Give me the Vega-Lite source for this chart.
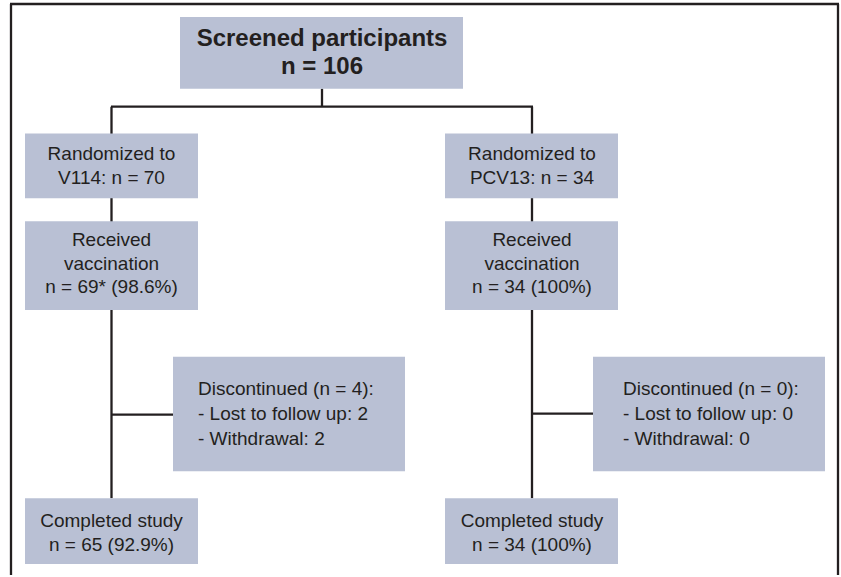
{
  "$schema": "https://vega.github.io/schema/vega-lite/v6.json",
  "width": 841,
  "height": 577,
  "autosize": {"type": "fit", "contains": "padding"},
  "padding": 0,
  "background": "white",
  "config": {"view": {"stroke": null}},
  "datasets": {
    "boxes": [
      {"node": "Screened", "x1": 180, "x2": 463, "y1": 17, "y2": 89},
      {"node": "RandV114", "x1": 25, "x2": 198, "y1": 134, "y2": 199},
      {"node": "RecV114", "x1": 25, "x2": 198, "y1": 222, "y2": 311},
      {"node": "DiscV114", "x1": 173, "x2": 405, "y1": 358, "y2": 473},
      {"node": "CompV114", "x1": 25, "x2": 198, "y1": 500, "y2": 566},
      {"node": "RandPCV13", "x1": 445, "x2": 618, "y1": 134, "y2": 199},
      {"node": "RecPCV13", "x1": 445, "x2": 618, "y1": 222, "y2": 311},
      {"node": "DiscPCV13", "x1": 593, "x2": 825, "y1": 358, "y2": 473},
      {"node": "CompPCV13", "x1": 445, "x2": 618, "y1": 500, "y2": 566}
    ],
    "links": [
      {"x1": 322, "x2": 322, "y1": 89, "y2": 107},
      {"x1": 111, "x2": 533, "y1": 107, "y2": 107},
      {"x1": 111.5, "x2": 111.5, "y1": 107, "y2": 500},
      {"x1": 532, "x2": 532, "y1": 107, "y2": 500},
      {"x1": 111.5, "x2": 173, "y1": 416, "y2": 416},
      {"x1": 532, "x2": 593, "y1": 415, "y2": 415},
      {"x1": 10, "x2": 839, "y1": 4, "y2": 4},
      {"x1": 11, "x2": 11, "y1": 4, "y2": 577},
      {"x1": 838, "x2": 838, "y1": 4, "y2": 577}
    ],
    "title": [
      {"x": 322, "y": 46, "label": "Screened participants\nn = 106"}
    ],
    "centered": [
      {"x": 111.5, "y": 161, "label": "Randomized to\nV114: n = 70"},
      {"x": 111.5, "y": 247, "label": "Received\nvaccination\nn = 69* (98.6%)"},
      {"x": 111.5, "y": 529, "label": "Completed study\nn = 65 (92.9%)"},
      {"x": 532, "y": 161, "label": "Randomized to\nPCV13: n = 34"},
      {"x": 532, "y": 247, "label": "Received\nvaccination\nn = 34 (100%)"},
      {"x": 532, "y": 529, "label": "Completed study\nn = 34 (100%)"}
    ],
    "disc": [
      {"x": 198, "y": 396, "label": "Discontinued (n = 4):\n- Lost to follow up: 2\n- Withdrawal: 2"},
      {"x": 623, "y": 396, "label": "Discontinued (n = 0):\n- Lost to follow up: 0\n- Withdrawal: 0"}
    ]
  },
  "layer": [
    {
      "data": {"name": "links"},
      "mark": {"type": "rule", "color": "#231f20", "strokeWidth": 2.3},
      "encoding": {
        "x": {"field": "x1", "type": "quantitative", "scale": {"domain": [0, 841], "nice": false, "zero": false}, "axis": null},
        "x2": {"field": "x2"},
        "y": {"field": "y1", "type": "quantitative", "scale": {"domain": [0, 577], "nice": false, "zero": false, "reverse": true}, "axis": null},
        "y2": {"field": "y2"}
      }
    },
    {
      "data": {"name": "boxes"},
      "mark": {"type": "rect", "color": "#b9c0d4"},
      "encoding": {
        "x": {"field": "x1", "type": "quantitative", "axis": null},
        "x2": {"field": "x2"},
        "y": {"field": "y1", "type": "quantitative", "axis": null},
        "y2": {"field": "y2"}
      }
    },
    {
      "data": {"name": "title"},
      "mark": {"type": "text", "font": "Liberation Sans", "fontWeight": "bold", "fontSize": 24, "lineHeight": 28, "lineBreak": "\n", "align": "center", "baseline": "alphabetic", "color": "#231f20"},
      "encoding": {
        "x": {"field": "x", "type": "quantitative", "axis": null},
        "y": {"field": "y", "type": "quantitative", "axis": null},
        "text": {"field": "label"}
      }
    },
    {
      "data": {"name": "centered"},
      "mark": {"type": "text", "font": "Liberation Sans", "fontSize": 19, "lineHeight": 23.5, "lineBreak": "\n", "align": "center", "baseline": "alphabetic", "color": "#231f20"},
      "encoding": {
        "x": {"field": "x", "type": "quantitative", "axis": null},
        "y": {"field": "y", "type": "quantitative", "axis": null},
        "text": {"field": "label"}
      }
    },
    {
      "data": {"name": "disc"},
      "mark": {"type": "text", "font": "Liberation Sans", "fontSize": 19, "lineHeight": 25, "lineBreak": "\n", "align": "left", "baseline": "alphabetic", "color": "#231f20"},
      "encoding": {
        "x": {"field": "x", "type": "quantitative", "axis": null},
        "y": {"field": "y", "type": "quantitative", "axis": null},
        "text": {"field": "label"}
      }
    }
  ]
}
